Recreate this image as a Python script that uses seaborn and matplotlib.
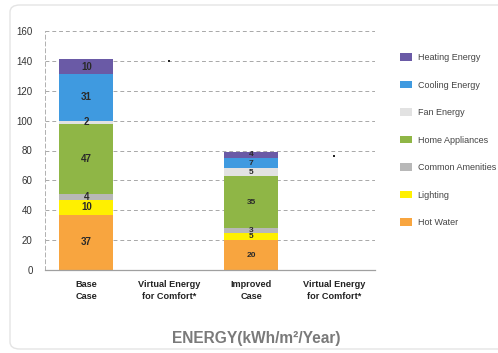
import matplotlib
matplotlib.use("Agg")
import matplotlib.pyplot as plt
from matplotlib.patches import FancyBboxPatch, Patch
import numpy as np
import pandas as pd
import seaborn as sns

sns.set_theme(style="white")
plt.rcParams["font.family"] = ["Liberation Sans", "DejaVu Sans"]

# Categories along the x axis
categories = ["Base\nCase", "Virtual Energy\nfor Comfort*", "Improved\nCase", "Virtual Energy\nfor Comfort*"]
cat_keys = ["base", "virt1", "improved", "virt2"]

# Energy end uses, stacked bottom to top
hot_water = [37, 0, 20, 0]
lighting = [10, 0, 5, 0]
common_amenities = [4, 0, 3, 0]
home_appliances = [47, 0, 35, 0]
fan_energy = [2, 0, 5, 0]
cooling_energy = [31, 0, 7, 0]
heating_energy = [10, 0, 4, 0]

# Virtual energy for comfort markers
virtual_energy = [None, 140, None, 76]

series_names = ["Hot Water", "Lighting", "Common Amenities", "Home Appliances",
                "Fan Energy", "Cooling Energy", "Heating Energy"]
series_values = [hot_water, lighting, common_amenities, home_appliances,
                 fan_energy, cooling_energy, heating_energy]
series_colors = ["#f8a53f", "#fff000", "#b8b8b8", "#8fb646",
                 "#e2e2e2", "#3f9ae0", "#6a5aa6"]

fig = plt.figure(figsize=(4.98, 3.53), dpi=100)
fig.patch.set_facecolor("white")

# Rounded panel outline around the chart
frame = FancyBboxPatch((10 / 498, 4 / 353), 500 / 498, 344 / 353,
                       boxstyle="round,pad=0,rounding_size=0.02",
                       transform=fig.transFigure, facecolor="none",
                       edgecolor="#e4e4e4", linewidth=1.0, zorder=-1)
fig.patches.append(frame)

ax = fig.add_axes([45 / 498, 1 - 270 / 353, 330 / 498, 239 / 353])
ax.set_facecolor("none")

bottom = np.zeros(len(categories))
for name, vals, col in zip(series_names, series_values, series_colors):
    df = pd.DataFrame({"cat": cat_keys, "val": vals})
    sns.barplot(data=df, x="cat", y="val", order=cat_keys, color=col,
                width=0.66, bottom=bottom.copy(), ax=ax, linewidth=0,
                saturation=1, zorder=3, errorbar=None)
    arr = np.array(vals, dtype=float)
    for i, v in enumerate(arr):
        if v > 0:
            fs = 6.0 if i == 2 else 7
            ax.text(i, bottom[i] + v / 2, f"{int(v)}", ha="center", va="center",
                    fontsize=fs, fontweight="bold", color="#2a2a2a", zorder=5)
    bottom += arr

# Small markers for virtual energy
vx = [i for i, v in enumerate(virtual_energy) if v is not None]
vy = [v for v in virtual_energy if v is not None]
sns.scatterplot(x=vx, y=vy, ax=ax, marker="s", s=4, color="#222222",
                linewidth=0, zorder=5)

ax.set_xlim(-0.5, 3.5)
ax.set_ylim(0, 160)
ax.set_yticks(range(0, 161, 20))
ax.set_xticks(range(4))
ax.set_xticklabels(categories, fontsize=6.6, fontweight="bold", color="#222222",
                   linespacing=1.5)
ax.tick_params(axis="x", which="major", length=0, pad=7)
ax.set_xticks([-0.5, 0.5, 1.5, 2.5, 3.5], minor=True)
ax.tick_params(axis="x", which="minor", length=10, width=0.8, color="#c8c8c8",
               direction="out")
ax.tick_params(axis="y", length=0, labelsize=7, labelcolor="#333333", pad=9)
ax.set_xlabel("")
ax.set_ylabel("")

ax.grid(axis="y", linestyle=(0, (4, 3)), color="#a8a8a8", linewidth=0.7, zorder=0)
ax.grid(axis="x", visible=False)
for s in ["top", "right"]:
    ax.spines[s].set_visible(False)
ax.spines["left"].set_linestyle((0, (4, 3)))
ax.spines["left"].set_color("#b0b0b0")
ax.spines["left"].set_linewidth(0.7)
ax.spines["bottom"].set_color("#a0a0a0")
ax.spines["bottom"].set_linewidth(0.9)
ax.spines["bottom"].set_zorder(4)

# Legend, top to bottom
handles = [Patch(facecolor=c, edgecolor="none", label=n)
           for n, c in zip(series_names[::-1], series_colors[::-1])]
fig.legend(handles=handles, loc="upper left", bbox_to_anchor=(400 / 498, 1 - 53 / 353),
           frameon=False, fontsize=6.5, handlelength=1.35, handleheight=0.95,
           handletextpad=0.6, labelspacing=2.05, labelcolor="#444444",
           borderaxespad=0, borderpad=0)

fig.text(256.5 / 498, 1 - 338 / 353, "ENERGY(kWh/m²/Year)", ha="center", va="center",
         fontsize=11.2, fontweight="bold", color="#7a7a7a")

fig.savefig("out.png", dpi=100)
